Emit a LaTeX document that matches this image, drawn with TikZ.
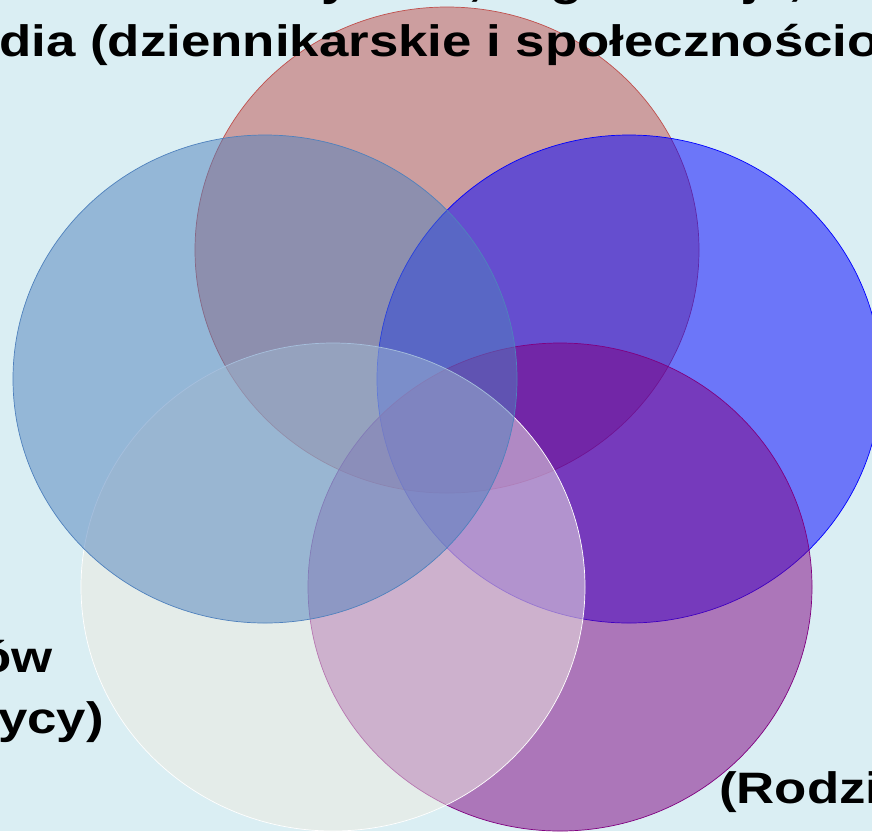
\documentclass[tikz,border=0pt]{standalone}
\usepackage{fontspec}
\setmainfont{Liberation Sans}[FakeStretch=1.2]
\usetikzlibrary{positioning}

\definecolor{bgcol}{HTML}{DAEEF3}
\definecolor{setred}{HTML}{C0504D}
\definecolor{setsteel}{HTML}{4F81BD}
\definecolor{setblue}{HTML}{0000FF}
\definecolor{setpurple}{HTML}{800080}
\definecolor{setpale}{HTML}{EEECE1}

\begin{document}
\begin{tikzpicture}[
  x=1pt, y=-1pt,
  set/.style={fill=#1, fill opacity=0.5, line width=0.7pt},
  lbl/.style={font=\bfseries\fontsize{44}{61}\selectfont, inner sep=0pt}
]
\useasboundingbox (0,0) rectangle (872,831);
\clip (0,0) rectangle (872,831);
\fill[bgcol] (0,0) rectangle (872,831);

% the five sets
\draw[set=setred, draw=setred] (447,250) ellipse [x radius=252, y radius=243];
\draw[set=setblue, draw=setblue] (629,379) ellipse [x radius=252, y radius=244];
\draw[set=setpurple, draw=setpurple] (560,587) ellipse [x radius=252, y radius=244];
\draw[set=setpale, draw=white] (333,587) ellipse [x radius=252, y radius=244];
\draw[set=setsteel, draw=setsteel] (265,379) ellipse [x radius=252, y radius=244];

% labels
\node[lbl, anchor=base east] (partners) at (803,-5) {Nauczyciele, organizacje,};
\node[lbl, anchor=base west] (media) at (-77,56) {media (dziennikarskie i społecznościowe)};
\node[lbl, align=center, anchor=base east] (experts) at (104,733) {Grupa ekspertów\\(naukowcy, praktycy)};
\node[lbl, anchor=base west] (parents) at (719,803) {(Rodzice, uczniowie)};
\end{tikzpicture}
\end{document}
